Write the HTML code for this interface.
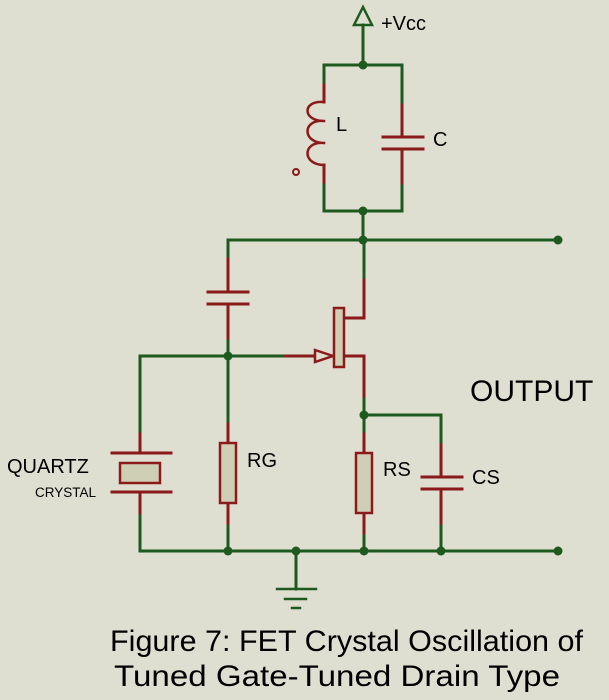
<!DOCTYPE html>
<html><head><style>
html,body{margin:0;padding:0;background:#dfdfd1;}
svg{display:block;}
text{font-family:"Liberation Sans",Arial,sans-serif;fill:#000;}
</style></head><body>
<svg width="609" height="700" viewBox="0 0 609 700" xmlns="http://www.w3.org/2000/svg">
<rect width="609" height="700" fill="#dfdfd1"/>
<g fill="none" stroke-width="3" stroke-linecap="square">
<g stroke="#1e5a1e">
<path d="M363,25 V65 M324,85 V65 H402 V105 M324,182 V211 H402 V183 M363,211 V240 M228,240 H558 M228,240 V259 M228,338 V356 M140,356 H285 M140,356 V434 M228,356 V424 M364,240 V280 M364,396 V415 H441 V445 M364,415 V434 M140,513 V551 H558 M228,523 V551 M364,533 V551 M441,523 V551 M296,551 V589"/>
<path d="M277,589 H316 M285,599 H306 M292,608 H300" stroke-width="2.5"/>
<path d="M363,7 L354,25 H372 Z" stroke-width="2.5" stroke-linejoin="miter"/>
</g>
<g stroke="#8b1a1a">
<path d="M324,85 V102 M324,165 V182"/>
<path d="M324,102 C302,100 302,121 324,121 M324,121 C302,119 302,143 324,143 M324,143 C302,141 302,165 324,165" stroke-width="2.5"/>
<circle cx="296" cy="172" r="3" stroke-width="2"/>
<path d="M402,105 V137 M402,149 V183 M383,137 H423 M383,149 H423"/>
<path d="M228,259 V292 M228,304 V338 M208,292 H248 M208,304 H248"/>
<path d="M285,356 H315"/>
<path d="M315,350 L333,356 L315,362 Z" stroke-width="2.5" fill="#dfdfd1"/>
<rect x="334" y="308" width="10" height="59" fill="#cfcfb6" stroke-width="2.5"/>
<path d="M345,318 H364 V280 M345,356 H364 V396"/>
<path d="M228,424 V443 M228,503 V523"/>
<rect x="220" y="443" width="16" height="60" fill="#cfcfb6" stroke-width="2.5"/>
<path d="M364,434 V453 M364,513 V533"/>
<rect x="356" y="453" width="16" height="60" fill="#cfcfb6" stroke-width="2.5"/>
<path d="M441,445 V477 M441,489 V523 M422,477 H462 M422,489 H462"/>
<path d="M140,434 V453 M140,492 V513 M112,453 H171 M112,492 H171"/>
<rect x="120" y="463" width="40" height="20" fill="#cfcfb6" stroke-width="2.5"/>
</g>
</g>
<g fill="#1e5a1e">
<circle cx="363" cy="65" r="4.5"/><circle cx="363" cy="211" r="4.5"/><circle cx="363" cy="240" r="4.5"/>
<circle cx="558" cy="240" r="4.5"/><circle cx="228" cy="356" r="4.5"/><circle cx="364" cy="415" r="4.5"/>
<circle cx="228" cy="551" r="4.5"/><circle cx="296" cy="551" r="4.5"/><circle cx="364" cy="551" r="4.5"/>
<circle cx="441" cy="551" r="4.5"/><circle cx="558" cy="551" r="4.5"/>
</g>
<text x="381" y="30" font-size="20">+Vcc</text>
<text x="336" y="131" font-size="20">L</text>
<text x="433" y="146" font-size="20">C</text>
<text x="247" y="467" font-size="20">RG</text>
<text x="383" y="476" font-size="20">RS</text>
<text x="472" y="484" font-size="20">CS</text>
<text x="470" y="401" font-size="30">OUTPUT</text>
<text x="7" y="473" font-size="20">QUARTZ</text>
<text x="35" y="497" font-size="13.5">CRYSTAL</text>
<text x="110" y="651" font-size="30" textLength="473" lengthAdjust="spacingAndGlyphs">Figure 7: FET Crystal Oscillation of</text>
<text x="114" y="686" font-size="30" textLength="446" lengthAdjust="spacingAndGlyphs">Tuned Gate-Tuned Drain Type</text>
</svg>
</body></html>
